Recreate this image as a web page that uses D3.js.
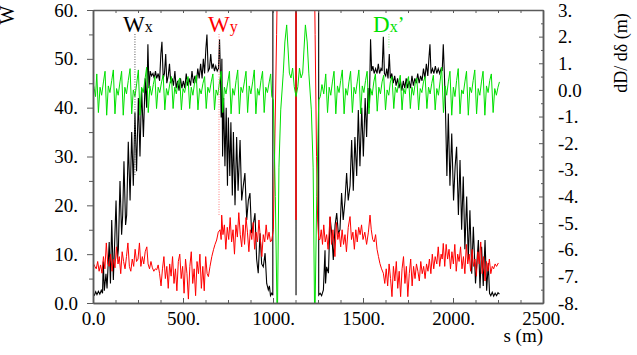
<!DOCTYPE html>
<html>
<head>
<meta charset="utf-8">
<script src="https://cdn.jsdelivr.net/npm/d3@7/dist/d3.min.js"></script>
<style>
  body { margin: 0; background: #fff; }
  text { font-family: "Liberation Serif", "Times New Roman", serif; }
</style>
</head>
<body>
<svg id="chart" width="637" height="355"></svg>
<script>
// tick labels as printed on the plot
var sTicks = [0, 500, 1000, 1500, 2000, 2500];
var sTickLabels = ["0.0", "500.", "1000.", "1500.", "2000.", "2500."];
var wTicks = [0, 10, 20, 30, 40, 50, 60];
var wTickLabels = ["0.0", "10.", "20.", "30.", "40.", "50.", "60."];
var dTicks = [-8, -7, -6, -5, -4, -3, -2, -1, 0, 1, 2, 3];
var dTickLabels = ["-8.", "-7.", "-6.", "-5.", "-4.", "-3.", "-2.", "-1.", "0.0", "1.", "2.", "3."];

// W_x (left axis), [s, value]
var wx = [
  [0,2.0],[8,1.6],[15,2.3],[22,1.7],[30,2.4],[38,1.8],[46,2.6],[53,2.0],[57,8.5],[63,2.5],
  [72,6.0],[78,3.0],[90,12.5],[97,4.0],[104,17.0],[113,4.7],[120,12.0],[128,21.0],[136,9.0],[141,11.0],
  [150,25.0],[159,14.0],[165,18.0],[172,29.0],[181,16.0],[187,18.0],[196,33.0],[206,21.0],[215,35.0],[224,24.0],
  [233,39.0],[242,27.0],[252,42.0],[261,30.0],[270,44.0],[280,34.0],[290,46.0],[298,40.0],[305,53.0],[311,44.0],
  [318,47.5],[325,46.5],[333,47.0],[340,46.0],[347,47.5],[354,46.0],[362,47.0],[370,45.5],[377,51.0],[383,53.5],
  [390,46.0],[397,47.0],[404,51.0],[410,45.0],[418,46.5],[425,49.0],[432,45.0],[440,46.0],[447,44.5],[455,47.5],
  [462,44.0],[470,45.5],[478,43.5],[486,46.0],[494,44.0],[502,45.5],[510,44.0],[518,47.0],[526,44.5],[534,46.0],
  [542,44.5],[550,47.5],[558,45.0],[566,46.5],[574,45.0],[582,48.0],[590,46.0],[598,49.0],[606,46.0],[613,50.0],
  [620,47.0],[627,52.0],[633,55.0],[640,47.5],[647,48.0],[654,51.0],[661,48.0],[668,49.0],[675,47.5],[682,48.5],
  [690,47.5],[697,48.0],[703,54.0],[708,47.0],
  [712,38],[716,50],[720,30],[726,42],[733,28],[740,40],[747,24],[752,38],[760,26],[766,37],
  [774,22],[780,35],[789,20],[798,34],[806,23],[817,33.4],[826,21],[835,24],[844,26.6],[854,17],
  [863,21],[872,22.5],[881,14.3],[890,16],[900,18.4],[909,9],[918,6.1],[928,14.3],[937,8],[946,7.4],
  [956,10.2],[965,4],[974,2.7],[980,3.5],[986,1.5],[993,2.0],[999,1.6],
  [1002,500],[1126,500],[1128,1.6],[1130,500],[1252,500],
  [1254,1.6],[1262,2.0],[1270,1.5],[1280,2.7],[1289,10.8],[1292,4],[1298,7.4],[1308,6.1],[1317,17.6],[1326,14.3],
  [1335,8.8],[1345,16],[1354,18.4],[1363,14.3],[1372,15],[1381,22.5],[1390,17],[1400,21],[1409,26.6],[1418,21],
  [1428,24],[1437,33.4],[1446,23],[1455,34],[1465,26],[1474,39.5],[1483,28],[1493,40],[1502,30],[1512,42],
  [1520,34],[1528,44],[1535,40],[1542,54],
  [1548,47.5],[1555,48.5],[1562,47],[1570,48],[1578,47],[1585,49],[1592,47],[1600,48],[1606,47.5],[1613,54.5],
  [1619,47],[1626,46.5],[1632,48],[1639,46],[1646,51],[1652,46],[1660,47],[1668,45],[1676,46.5],[1684,44.5],
  [1692,46],[1700,44],[1708,45.5],[1716,43.5],[1724,45.5],[1732,44],[1740,46],[1748,44],[1756,45.5],[1764,44],
  [1772,46.5],[1780,44.5],[1788,46],[1796,45],[1804,47],[1812,45],[1820,46.5],[1828,45.5],[1836,48],[1844,46],
  [1852,49],[1860,46.5],[1866,50],[1872,53],[1878,47],[1886,48],[1894,47],[1902,48.5],[1910,47],[1918,48],
  [1926,47],[1934,48],[1940,47.5],[1946,53],[1952,47],
  [1958,40],[1966,26],[1974,38.8],[1983,24],[1993,34.7],[2003,21],[2012,28],[2020,32],[2030,18],[2039,29.3],
  [2048,15],[2057,25.9],[2066,11],[2076,21.8],[2085,9],[2094,19],[2104,6],[2113,15.6],[2125,4],[2141,12.9],
  [2150,3],[2159,11.5],[2168,3.5],[2178,12.9],[2187,2.5],[2196,8.2],[2203,2],[2210,1.5],[2218,2.2],[2226,1.4],
  [2234,2.0],[2242,1.5],[2250,2.1],[2258,1.8]
];

// W_y (left axis), [s, value]
var wy = [
  [0,8.2],[10,7.5],[18,7.0],[26,8.5],[34,6.5],[42,7.8],[50,6.1],[58,9.5],[66,7],[74,12.3],
  [82,8],[90,7.5],[98,10],[106,6.5],[114,9],[122,7.2],[130,11.5],[139,8],[146,9.5],[154,6],
  [162,10.5],[170,8.5],[178,7],[186,9.5],[194,12.3],[202,7.5],[210,6.5],[218,9],[226,7.5],[234,11],
  [242,8.5],[250,9],[258,12.3],[266,7.5],[274,9.5],[282,8],[290,10.5],[299,11.5],[306,8],[314,7],
  [322,8.5],[330,7.2],[338,6.5],[346,7],[354,6.8],[362,7.8],[370,6],[378,3.5],[386,7],[394,9.5],
  [402,5],[410,7.5],[418,3],[426,8],[434,5.5],[442,9.5],[450,4],[458,7],[466,2.5],[474,8.5],
  [482,10],[490,5],[498,7.5],[506,2],[514,9],[522,6],[530,0.8],[538,7.5],[546,10.5],[554,4],
  [562,7],[570,1.5],[578,8.5],[586,6],[594,10],[602,3],[610,7.5],[618,2.5],[626,9.5],[634,6],
  [641,5.4],[650,7.5],[660,9.5],[670,11],[678,12],[687,12.9],[696,14.5],[706,15],[712,13],[715,18],
  [722,14],[730,16],[738,11],[746,15.5],[754,13],[762,17.5],[770,12.5],[778,15],[786,10],[794,16],
  [802,13.5],[810,18.5],[818,14],[826,11.5],[834,16],[842,12],[850,17.5],[858,14.5],[866,10.5],[874,15],
  [882,13],[890,16.5],[898,11],[906,14.5],[914,12.5],[922,17],[930,13],[938,9.5],[946,14],[954,12.5],
  [962,16],[970,13],[978,14.5],[986,12.5],[993,12.9],[1002,15],[1011,34.8],[1020,55],[1030,80],[1050,500],
  [1126,500],[1128,17],[1130,500],[1206,500],[1226,80],[1234,55],[1242,30],[1248,17],
  [1254,13],[1261,13],[1268,15],[1275,12],[1282,16],[1290,12.5],[1298,14],[1306,11],[1317,17.7],[1325,12],
  [1333,15],[1344,9.5],[1352,16.5],[1360,13],[1368,14.5],[1376,11.5],[1384,15],[1392,12],[1400,14],[1408,10.5],
  [1418,15.5],[1428,17.7],[1436,13],[1444,14.5],[1452,11],[1460,15],[1468,12.5],[1476,15.5],[1484,14],[1492,16],
  [1500,13],[1510,14.5],[1520,12],[1530,14.5],[1539,18],[1546,15],[1554,13],[1562,12.5],[1570,14],[1578,11],
  [1586,9.5],[1594,8.1],[1603,7],[1613,6.1],[1621,4],[1629,7],[1637,3.5],[1645,8],[1653,5],[1661,1.3],
  [1669,7.5],[1677,4.5],[1685,8.5],[1693,3],[1701,6.5],[1709,1.3],[1717,7],[1725,9.5],[1733,4],[1741,7.5],
  [1749,1.3],[1757,6],[1765,9],[1773,3.5],[1781,7.5],[1789,5],[1797,8],[1805,6.5],[1813,4.5],[1821,8.5],
  [1829,6],[1837,7.5],[1845,5],[1853,8],[1861,6.5],[1869,9],[1877,6],[1885,10],[1893,7],[1901,9.5],
  [1910,8],[1918,11.5],[1926,7.5],[1934,10],[1940,9],[1946,12.2],[1954,7.5],[1962,12],[1970,9],[1978,11],
  [1986,7],[1994,10.5],[2002,8],[2010,12],[2018,6.5],[2026,10],[2034,8.5],[2042,11.5],[2050,7],[2058,9.5],
  [2066,6],[2074,12],[2082,8],[2090,10],[2098,6.5],[2106,11],[2114,7.5],[2122,9],[2130,5.5],[2138,10.5],
  [2146,8],[2154,12.5],[2162,6],[2170,9.5],[2178,4.5],[2186,8.5],[2194,6.5],[2202,9],[2210,6],[2218,7.5],
  [2226,7],[2234,8],[2242,7.5],[2252,8.2]
];

// D_x' (right axis), [s, value]
var dx = [
  [0,0.25],[7,0.05],[14,-0.25],[21,0.6],[30,-0.85],[39,0.1],[48,-0.2],[58,0.3],
  [67,0.7],[76,-0.95],[85,0.15],[94,-0.1],[104,0.35],
  [113,0.75],[122,-0.9],[131,0.05],[140,-0.2],[150,0.3],
  [159,0.7],[168,-0.95],[177,0.1],[186,-0.15],[196,0.35],
  [206,0.8],[215,-0.9],[224,0.0],[233,-0.25],[243,0.25],
  [252,0.75],[261,-0.95],[270,0.1],[279,-0.1],[289,0.4],
  [298,0.85],[307,-0.85],[316,0.15],[325,-0.2],[335,0.2],
  [344,0.5],[353,-0.7],[362,0.1],[371,-0.1],[381,0.3],
  [390,0.55],[399,-0.75],[408,0.05],[417,-0.2],[427,0.25],
  [436,0.5],[445,-0.7],[454,0.1],[463,-0.15],[473,0.3],
  [482,0.45],[491,-0.75],[500,0.05],[509,-0.1],[519,0.25],
  [528,0.5],[537,-0.7],[546,0.1],[555,-0.2],[565,0.3],
  [574,0.55],[583,-0.75],[592,0.05],[601,-0.15],[611,0.25],
  [620,0.5],[629,-0.7],[638,0.1],[647,-0.1],[657,0.3],
  [666,0.6],[675,-0.75],[684,0.0],[693,-0.2],[703,0.3],
  [712,0.7],[721,-0.85],[730,0.1],[739,-0.15],[749,0.3],
  [758,0.7],[767,-0.9],[776,0.05],[785,-0.2],[795,0.35],
  [804,0.75],[813,-0.9],[822,0.1],[831,-0.1],[841,0.3],
  [850,0.7],[859,-0.85],[868,0.15],[877,-0.15],[887,0.3],
  [896,0.75],[905,-0.9],[914,0.05],[923,-0.2],[933,0.35],
  [942,0.7],[951,-0.85],[960,0.1],[969,-0.1],[979,0.3],
  [987,0.6],[993,-0.25],[1002,-0.38],[1013,-4],[1024,-9],[1033,-2.9],[1043,-0.75],[1057,0.63],[1066,1.8],[1076,2.44],
  [1084,1.5],[1091,0.63],[1100,0.45],[1109,0.82],[1118,0.12],[1128,-0.25],[1138,0.12],[1147,0.82],[1156,0.45],[1165,0.63],
  [1172,1.5],[1180,2.44],[1190,1.8],[1199,0.63],[1213,-0.75],[1223,-2.9],[1232,-9],[1243,-4],[1254,-0.38],
  [1263,-0.25],[1272,0.2],[1282,-0.15],
  [1293,0.6],[1303,-0.85],[1312,0.1],[1321,-0.2],[1330,0.3],
  [1339,0.7],[1349,-0.9],[1358,0.15],[1367,-0.1],[1376,0.35],
  [1385,0.75],[1395,-0.9],[1404,0.05],[1413,-0.2],[1422,0.3],
  [1431,0.7],[1441,-0.85],[1450,0.1],[1459,-0.15],[1468,0.3],
  [1477,0.75],[1487,-0.9],[1496,0.15],[1505,-0.1],[1514,0.35],
  [1523,0.7],[1533,-0.9],[1542,0.05],[1551,-0.2],[1560,0.3],
  [1569,0.6],[1579,-0.8],[1588,0.1],[1597,-0.15],[1606,0.3],
  [1615,0.55],[1625,-0.75],[1634,0.0],[1643,-0.2],[1652,0.3],
  [1661,0.5],[1671,-0.7],[1680,0.1],[1689,-0.1],[1698,0.25],
  [1707,0.55],[1717,-0.75],[1726,0.05],[1735,-0.15],[1744,0.3],
  [1753,0.5],[1763,-0.7],[1772,0.1],[1781,-0.2],[1790,0.25],
  [1799,0.45],[1809,-0.75],[1818,0.05],[1827,-0.1],[1836,0.3],
  [1845,0.5],[1855,-0.7],[1864,0.1],[1873,-0.15],[1882,0.25],
  [1891,0.55],[1901,-0.75],[1910,0.05],[1919,-0.2],[1928,0.3],
  [1937,0.85],[1947,-0.85],[1956,0.15],[1965,-0.2],[1974,0.3],
  [1983,0.7],[1993,-0.95],[2002,0.1],[2011,-0.25],[2020,0.35],
  [2029,0.8],[2039,-0.9],[2048,0.0],[2057,-0.15],[2066,0.3],
  [2075,0.7],[2085,-0.95],[2094,0.1],[2103,-0.1],[2112,0.35],
  [2121,0.75],[2131,-0.9],[2140,0.05],[2149,-0.2],[2158,0.3],
  [2167,0.7],[2177,-0.95],[2186,0.15],[2195,-0.1],[2204,0.35],
  [2213,0.6],[2223,-0.85],[2232,0.05],[2241,-0.2],[2250,0.1],[2258,0.3]
];

var svg = d3.select("#chart");
var pLeft = 93, pRight = 543, pTop = 10, pBottom = 303;
var axisColor = "#5a5a5a";

var x = d3.scaleLinear().domain([0, 2500]).range([pLeft, pRight]);
var yL = d3.scaleLinear().domain([0, 60]).range([pBottom, pTop]);
var yR = d3.scaleLinear().domain([-8, 3]).range([pBottom, pTop]);

svg.append("defs").append("clipPath").attr("id", "plotclip")
  .append("rect").attr("x", pLeft).attr("y", pTop)
  .attr("width", pRight - pLeft).attr("height", pBottom - pTop);

// curves
var lineL = d3.line().x(function(d) { return x(d[0]); }).y(function(d) { return yL(d[1]); });
var lineR = d3.line().x(function(d) { return x(d[0]); }).y(function(d) { return yR(d[1]); });

var plot = svg.append("g").attr("clip-path", "url(#plotclip)");
plot.append("path").datum(wx).attr("d", lineL)
  .attr("fill", "none").attr("stroke", "#000").attr("stroke-width", 1.1);
plot.append("path").datum(wy).attr("d", lineL)
  .attr("fill", "none").attr("stroke", "#ff0000").attr("stroke-width", 1);
plot.append("path").datum(dx).attr("d", lineR)
  .attr("fill", "none").attr("stroke", "#00e000").attr("stroke-width", 1);

// axes
function styleAxis(g) {
  g.selectAll("path, line").attr("stroke", axisColor);
  g.select(".domain").attr("stroke-width", 1.5);
  g.selectAll("text").attr("fill", "#000").style("font-size", "19px")
    .style("font-family", '"Liberation Serif", serif');
}

var minorS = d3.range(0, 2501, 125);

svg.append("g").attr("transform", "translate(0," + pBottom + ")")
  .call(d3.axisBottom(x).tickValues(minorS).tickSize(-3).tickSizeOuter(0).tickFormat(""))
  .call(styleAxis);
svg.append("g").attr("transform", "translate(0," + pBottom + ")")
  .call(d3.axisBottom(x).tickValues(sTicks).tickSize(-5).tickSizeOuter(0).tickPadding(8.5)
    .tickFormat(function(d, i) { return sTickLabels[i]; }))
  .call(styleAxis);
svg.append("g").attr("transform", "translate(0," + pTop + ")")
  .call(d3.axisTop(x).tickValues(minorS).tickSize(-3).tickSizeOuter(0).tickFormat(""))
  .call(styleAxis);

svg.append("g").attr("transform", "translate(" + pLeft + ",0)")
  .call(d3.axisLeft(yL).tickValues(d3.range(5, 60, 10)).tickSize(4).tickSizeOuter(0).tickFormat(""))
  .call(styleAxis);
svg.append("g").attr("transform", "translate(" + pLeft + ",0)")
  .call(d3.axisLeft(yL).tickValues(wTicks).tickSize(6).tickSizeOuter(0).tickPadding(9)
    .tickFormat(function(d, i) { return wTickLabels[i]; }))
  .call(styleAxis);

svg.append("g").attr("transform", "translate(" + pRight + ",0)")
  .call(d3.axisRight(yR).tickValues(d3.range(-7.5, 3, 1)).tickSize(-2).tickSizeOuter(0).tickFormat(""))
  .call(styleAxis);
svg.append("g").attr("transform", "translate(" + pRight + ",0)")
  .call(d3.axisRight(yR).tickValues(dTicks).tickSize(-4).tickSizeOuter(0).tickPadding(15)
    .tickFormat(function(d, i) { return dTickLabels[i]; }))
  .call(styleAxis);

// axis titles
svg.append("text").attr("transform", "translate(14,15) rotate(-90)")
  .attr("text-anchor", "middle").style("font-size", "20px").text("W");
svg.append("text").attr("transform", "translate(627,53) rotate(-90)")
  .attr("text-anchor", "middle").style("font-size", "18px").text("dD/ dδ (m)");
svg.append("text").attr("x", 543).attr("y", 342)
  .attr("text-anchor", "end").style("font-size", "19px").text("s (m)");

// curve labels with dotted pointers
var labels = [
  { s: 233, v: 26, main: "W", sub: "x", tail: "", color: "#000", dot: "#555", lx: 123 },
  { s: 700, v: 18, main: "W", sub: "y", tail: "", color: "#ff0000", dot: "#ff8080", lx: 208 },
  { s: 1644, v: 52, main: "D", sub: "x", tail: "\u2019", color: "#00e000", dot: "#80f080", lx: 373 }
];
labels.forEach(function(d) {
  svg.append("line")
    .attr("x1", x(d.s)).attr("x2", x(d.s))
    .attr("y1", 34).attr("y2", yL(d.v))
    .attr("stroke", d.dot).attr("stroke-width", 1).attr("stroke-dasharray", "1,1.5");
  var t = svg.append("text").attr("x", d.lx).attr("y", 32)
    .attr("fill", d.color).style("font-size", "23px");
  t.append("tspan").text(d.main);
  t.append("tspan").style("font-size", "16px").text(d.sub);
  if (d.tail) t.append("tspan").attr("dy", -1).style("font-size", "20px").text(d.tail);
});
</script>
</body>
</html>
